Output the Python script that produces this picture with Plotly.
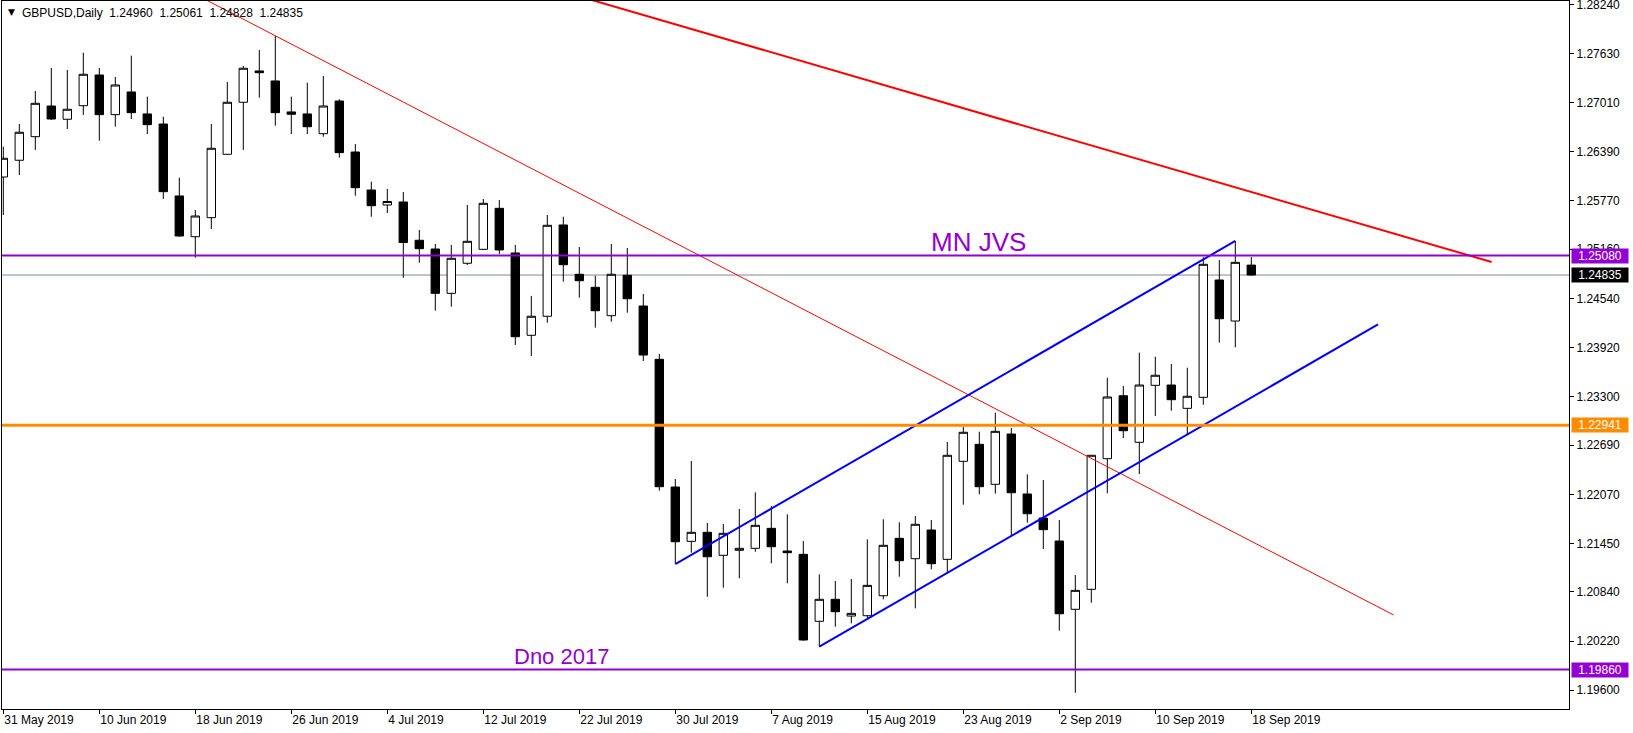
import pandas as pd
import plotly.graph_objects as go

# ---------------- data ----------------
dates = pd.bdate_range("2019-05-31", "2019-09-18")

opens = [1.26071, 1.26282, 1.26579, 1.26966, 1.26799, 1.26970, 1.27357, 1.26857, 1.27143, 1.26866,
         1.26739, 1.25832, 1.25318, 1.25558, 1.26357, 1.27013, 1.27408, 1.27282, 1.26891, 1.26866,
         1.26617, 1.27029, 1.26386, 1.25907, 1.25718, 1.25756, 1.25273, 1.25163, 1.24604, 1.24983,
         1.25159, 1.25676, 1.25113, 1.24075, 1.24315, 1.25466, 1.24844, 1.24680, 1.24322, 1.24832,
         1.24444, 1.23772, 1.22162, 1.21477, 1.21591, 1.21301, 1.21364, 1.21389, 1.21641, 1.21355,
         1.21313, 1.20469, 1.20746, 1.20535, 1.20539, 1.20791, 1.21515, 1.21258, 1.21620, 1.21250,
         1.22486, 1.22700, 1.22196, 1.22830, 1.22074, 1.21771, 1.21481, 1.20620, 1.20872, 1.22519,
         1.23313, 1.22726, 1.23444, 1.23448, 1.23154, 1.23293, 1.24772, 1.24255, 1.24960]
highs = [1.26453, 1.26739, 1.27156, 1.27446, 1.27420, 1.27638, 1.27446, 1.27332, 1.27601, 1.27084,
         1.26831, 1.26062, 1.25655, 1.26739, 1.27269, 1.27471, 1.27673, 1.27849, 1.27084, 1.27260,
         1.27345, 1.27051, 1.26487, 1.26012, 1.25920, 1.25882, 1.25403, 1.25226, 1.25214, 1.25718,
         1.25794, 1.25781, 1.25214, 1.24571, 1.25592, 1.25570, 1.25188, 1.24826, 1.25226, 1.25176,
         1.24596, 1.23839, 1.22263, 1.22490, 1.21708, 1.21695, 1.21885, 1.22095, 1.21922, 1.21818,
         1.21481, 1.21061, 1.20977, 1.21002, 1.21502, 1.21755, 1.21717, 1.21796, 1.21746, 1.22729,
         1.22922, 1.22859, 1.23099, 1.22906, 1.22322, 1.22250, 1.21746, 1.21052, 1.22565, 1.23540,
         1.23436, 1.23856, 1.23805, 1.23713, 1.23666, 1.25059, 1.25024, 1.25264, 1.25061]
lows = [1.25592, 1.26096, 1.26412, 1.26790, 1.26676, 1.26853, 1.26529, 1.26705, 1.26802, 1.26613,
        1.25794, 1.25318, 1.25053, 1.25415, 1.26350, 1.26412, 1.27071, 1.26718, 1.26613, 1.26613,
        1.26579, 1.26315, 1.25835, 1.25570, 1.25617, 1.24801, 1.24990, 1.24385, 1.24436, 1.24961,
        1.25150, 1.25100, 1.23953, 1.23814, 1.24234, 1.24751, 1.24549, 1.24171, 1.24246, 1.24360,
        1.23751, 1.22115, 1.21191, 1.21334, 1.20779, 1.20892, 1.21011, 1.21346, 1.21200, 1.20948,
        1.20224, 1.20148, 1.20400, 1.20443, 1.20506, 1.20746, 1.21031, 1.20632, 1.21124, 1.21081,
        1.21939, 1.22070, 1.22078, 1.21544, 1.21712, 1.21380, 1.20350, 1.19568, 1.20703, 1.22083,
        1.22780, 1.22326, 1.23057, 1.23124, 1.22818, 1.23200, 1.23982, 1.23924, 1.24828]
closes = [1.26307, 1.26635, 1.27000, 1.26802, 1.26925, 1.27366, 1.26857, 1.27231, 1.26882, 1.26731,
          1.25886, 1.25327, 1.25579, 1.26433, 1.27013, 1.27442, 1.27386, 1.26882, 1.26862, 1.26705,
          1.26966, 1.26378, 1.25936, 1.25709, 1.25762, 1.25245, 1.25167, 1.24604, 1.25046, 1.25260,
          1.25739, 1.25151, 1.24057, 1.24315, 1.25462, 1.24965, 1.24763, 1.24385, 1.24844, 1.24536,
          1.23826, 1.22166, 1.21472, 1.21591, 1.21283, 1.21578, 1.21389, 1.21679, 1.21409, 1.21334,
          1.20233, 1.20746, 1.20590, 1.20569, 1.20922, 1.21427, 1.21233, 1.21692, 1.21195, 1.22562,
          1.22852, 1.22166, 1.22864, 1.22090, 1.21825, 1.21624, 1.20564, 1.20859, 1.22562, 1.23297,
          1.22872, 1.23448, 1.23571, 1.23263, 1.23306, 1.24970, 1.24284, 1.24995, 1.24835]

y_ticks = [1.28240, 1.27630, 1.27010, 1.26390, 1.25770, 1.25160, 1.24540, 1.23920,
           1.23300, 1.22690, 1.22070, 1.21450, 1.20840, 1.20220, 1.19600]

level_mn_jvs = 1.25080
level_bid = 1.24835
level_support = 1.22941
level_dno = 1.19860

# trend lines: (bar index, price) anchor pairs
thin_red_x = [12.0, 86.9]
thin_red_y = [1.28374, 1.20548]
thick_red_x = [35.0, 93.02]
thick_red_y = [1.28407, 1.24999]
chan_up_x = [42, 77]
chan_up_y = [1.21191, 1.25264]
chan_lo_x = [51, 85.92]
chan_lo_y = [1.20148, 1.24212]

header = "GBPUSD,Daily\u00a0\u00a01.24960\u00a0\u00a01.25061\u00a0\u00a01.24828\u00a0\u00a01.24835"

# ---------------- figure ----------------
xs = list(range(len(dates)))
tick_idx = list(range(0, len(dates), 6))
tick_text = [f"{dates[i].day} {dates[i].strftime('%b')} {dates[i].year}" for i in tick_idx]

PURPLE = "#9400D3"
ORANGE = "#FF8C00"
FONT = "Liberation Sans"

fig = go.Figure()
fig.add_trace(go.Candlestick(
    x=xs, open=opens, high=highs, low=lows, close=closes,
    increasing=dict(line=dict(color="black", width=1), fillcolor="white"),
    decreasing=dict(line=dict(color="black", width=1), fillcolor="black"),
    whiskerwidth=0, hoverinfo="skip", showlegend=False,
))

for lx, ly, col, w in [(thin_red_x, thin_red_y, "#FF0000", 1),
                       (thick_red_x, thick_red_y, "#FF0000", 2),
                       (chan_up_x, chan_up_y, "#0000FF", 2),
                       (chan_lo_x, chan_lo_y, "#0000FF", 2)]:
    fig.add_trace(go.Scatter(x=lx, y=ly, mode="lines", line=dict(color=col, width=w),
                             hoverinfo="skip", showlegend=False))

shapes = [
    dict(type="line", xref="paper", x0=0, x1=1, yref="y", y0=level_bid, y1=level_bid,
         line=dict(color="#7F8A96", width=1), layer="below"),
    dict(type="line", xref="paper", x0=0, x1=1, yref="y", y0=level_mn_jvs, y1=level_mn_jvs,
         line=dict(color=PURPLE, width=2), layer="above"),
    dict(type="line", xref="paper", x0=0, x1=1, yref="y", y0=level_support, y1=level_support,
         line=dict(color=ORANGE, width=3), layer="above"),
    dict(type="line", xref="paper", x0=0, x1=1, yref="y", y0=level_dno, y1=level_dno,
         line=dict(color=PURPLE, width=2), layer="above"),
]

annotations = []
for val, bg in [(level_mn_jvs, PURPLE), (level_bid, "black"),
                (level_support, ORANGE), (level_dno, PURPLE)]:
    annotations.append(dict(
        x=1, xref="paper", xanchor="left", xshift=2, y=val, yref="y", yanchor="middle",
        text=f"{val:.5f}", showarrow=False, bgcolor=bg, width=56, height=14, borderpad=0,
        align="center", font=dict(color="white", size=12, family=FONT)))

annotations.append(dict(x=0, xref="paper", xanchor="left", xshift=4, y=1, yref="paper",
                        yanchor="middle", yshift=-11, text="\u25BC", showarrow=False,
                        font=dict(family="DejaVu Sans", size=9, color="black")))
annotations.append(dict(x=0, xref="paper", xanchor="left", xshift=18, y=1, yref="paper",
                        yanchor="middle", yshift=-11.5, text=header, showarrow=False,
                        font=dict(family=FONT, size=12, color="black")))
annotations.append(dict(x=60.98, xref="x", y=1.25251, yref="y", xanchor="center",
                        yanchor="middle", text="MN JVS", showarrow=False,
                        font=dict(family=FONT, size=26, color=PURPLE)))
annotations.append(dict(x=34.9, xref="x", y=1.20031, yref="y", xanchor="center",
                        yanchor="middle", text="Dno 2017", showarrow=False,
                        font=dict(family=FONT, size=22, color=PURPLE)))

fig.update_layout(
    width=1633, height=733,
    margin=dict(l=2, r=64, t=1, b=24, pad=0),
    paper_bgcolor="white", plot_bgcolor="white",
    showlegend=False, boxgap=0.25,
    shapes=shapes, annotations=annotations,
    xaxis=dict(range=[-0.081, 97.856], tickmode="array", tickvals=tick_idx, ticktext=tick_text,
               ticks="outside", ticklen=4, tickcolor="black", showgrid=False, zeroline=False,
               showline=True, linecolor="black", linewidth=1, mirror=True,
               rangeslider=dict(visible=False), ticklabelposition="outside right",
               ticklabeloverflow="allow",
               tickfont=dict(family=FONT, size=12, color="black"), automargin=False),
    yaxis=dict(range=[1.19363, 1.28290], side="right", tickmode="array", tickvals=y_ticks,
               ticktext=[f"{v:.5f}" for v in y_ticks], ticks="outside", ticklen=4,
               tickcolor="black", showgrid=False, zeroline=False, showline=True,
               linecolor="black", linewidth=1, mirror=True, ticklabeloverflow="allow",
               tickfont=dict(family=FONT, size=12, color="black"), automargin=False),
)

fig.write_html("out.html", config={"displayModeBar": False},
               post_script="document.body.style.margin='0px';document.body.style.overflow='hidden';")
